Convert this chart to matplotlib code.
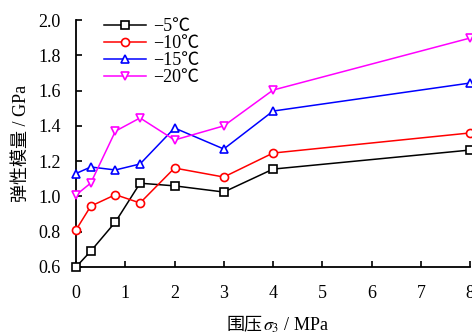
import matplotlib
matplotlib.use("Agg")
import matplotlib.pyplot as plt

plt.rcParams.update({
    "font.family": ["Liberation Serif", "Noto Sans CJK SC"],
    "mathtext.fontset": "stix",
    "font.size": 13,
    "xtick.direction": "in",
    "ytick.direction": "in",
})

# confining pressure (MPa)
sigma3 = [0, 0.3, 0.8, 1.3, 2, 3, 4, 8]

# elastic modulus (GPa) per temperature
e_m5 = [0.60, 0.69, 0.855, 1.075, 1.06, 1.025, 1.155, 1.263]
e_m10 = [0.81, 0.945, 1.01, 0.963, 1.161, 1.11, 1.246, 1.36]
e_m15 = [1.13, 1.167, 1.15, 1.184, 1.388, 1.269, 1.484, 1.643]
e_m20 = [1.008, 1.076, 1.37, 1.445, 1.32, 1.40, 1.603, 1.898]

labels = ["−5℃", "−10℃", "−15℃", "−20℃"]
xticks = [0, 1, 2, 3, 4, 5, 6, 7, 8]
yticks = [0.6, 0.8, 1.0, 1.2, 1.4, 1.6, 1.8, 2.0]

fig = plt.figure(figsize=(4.72, 3.34), dpi=100)
ax = fig.add_axes([0.161, 0.2006, 0.835, 0.7394])

series = [
    (e_m5, "black", "s"),
    (e_m10, "red", "o"),
    (e_m15, "blue", "^"),
    (e_m20, "magenta", "v"),
]
for (vals, c, mk), lab in zip(series, labels):
    ax.plot(sigma3, vals, color=c, marker=mk, markersize=5.8, markerfacecolor="white",
            markeredgecolor=c, markeredgewidth=1.2, linewidth=1.1, label=lab, clip_on=False,
            zorder=3)

ax.set_xlim(0, 8)
ax.set_ylim(0.6, 2.0)
ax.set_xticks(xticks)
ax.set_yticks(yticks)
ax.set_yticklabels([f"{v:.1f}" for v in yticks])
ax.tick_params(length=4, width=1.2)
ax.tick_params(axis="x", pad=13)
ax.tick_params(axis="y", pad=11)
for s in ["top", "right"]:
    ax.spines[s].set_visible(False)
for s in ["left", "bottom"]:
    ax.spines[s].set_linewidth(1.3)

ax.set_ylabel("弹性模量 / GPa", labelpad=6)

# x label in two pieces so CJK and the math subscript both render
fig.text(0.557, 0.027, "围压", ha="right", va="center", fontsize=13)
fig.text(0.557, 0.027, "$\\sigma_3$ / MPa", ha="left", va="center", fontsize=13)

ax.legend(loc="upper left", bbox_to_anchor=(0.04, 1.06), frameon=False,
          handlelength=2.3, labelspacing=0.0, borderpad=0.2, handletextpad=0.4)

fig.savefig("out.png", dpi=100)
